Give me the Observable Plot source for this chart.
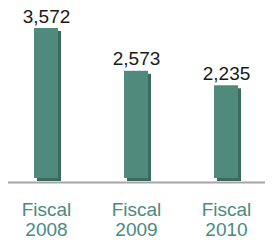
<!DOCTYPE html>
<html><head><meta charset="utf-8">
<script src="https://cdn.jsdelivr.net/npm/d3@7"></script>
<script src="https://cdn.jsdelivr.net/npm/@observablehq/plot@0.6"></script>
<style>body{margin:0;background:#fff}</style>
</head><body><div id="chart"></div>
<script>
const categories = ["Fiscal 2008", "Fiscal 2009", "Fiscal 2010"];
const values = [3572, 2573, 2235];
const labels = ["3,572", "2,573", "2,235"];
const data = categories.map((c, i) => ({cat: c, value: values[i], label: labels[i]}));

const chart = Plot.plot({
  width: 274, height: 240,
  marginLeft: 1, marginRight: 3, marginTop: 28, marginBottom: 59,
  style: {fontFamily: "'Liberation Sans', Arial, sans-serif", background: "#fff"},
  x: {domain: categories, paddingInner: 0.733, paddingOuter: 0.3665, align: 0.5, axis: null},
  y: {domain: [0, d3.max(values)], axis: null},
  marks: [
    Plot.ruleY([0], {stroke: "#a6a6a6", strokeWidth: 2, dy: 1, insetLeft: 7, insetRight: 6}),
    Plot.barY(data, {x: "cat", y: "value", fill: "#3b6b5f", dx: 3, insetTop: 3}),
    Plot.barY(data, {x: "cat", y: "value", fill: "#4f8a7c", insetBottom: 3}),
    Plot.text(data, {x: "cat", y: "value", text: "label", dy: -6, lineAnchor: "bottom", fontSize: 19, fill: "#1a1a1a"}),
    Plot.axisX({domain: categories, label: null, tickSize: 0, tickPadding: 20, fontSize: 19, lineHeight: 1.05,
      fill: "#4a8a80", tickFormat: d => d.replace(" ", "\n")})
  ]
});
document.getElementById("chart").append(chart);
</script>
</body></html>
